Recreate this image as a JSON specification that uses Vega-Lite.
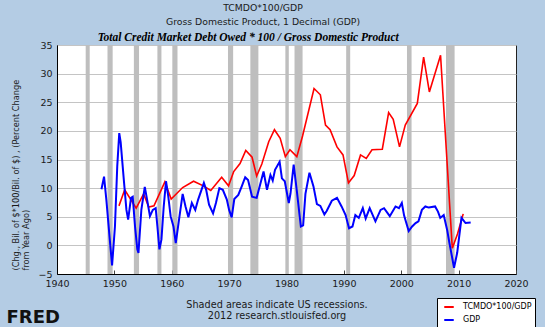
{
  "$schema": "https://vega.github.io/schema/vega-lite/v6.json",
  "width": 459,
  "height": 229,
  "autosize": {"type": "none"},
  "padding": {"left": 57, "top": 45, "right": 29, "bottom": 53},
  "background": "#B4CCE4",
  "config": {"view": {"stroke": "#222", "fill": "#FFFFFF"}},
  "title": {
    "text": ["TCMDO*100/GDP", "Gross Domestic Product, 1 Decimal (GDP)"],
    "font": "DejaVu Sans",
    "fontSize": 9.3,
    "fontWeight": "normal",
    "color": "#1a1a1a",
    "anchor": "middle",
    "dx": -23.5,
    "lineHeight": 13.5
  },
  "resolve": {"axis": {"x": "independent", "y": "independent"}},
  "layer": [
    {
      "data": {"values": [
        {"start": 1945.0, "end": 1945.7},
        {"start": 1948.8, "end": 1949.7},
        {"start": 1953.4, "end": 1954.3},
        {"start": 1957.5, "end": 1958.2},
        {"start": 1960.1, "end": 1961.0},
        {"start": 1969.8, "end": 1970.7},
        {"start": 1973.7, "end": 1975.1},
        {"start": 1979.8, "end": 1980.4},
        {"start": 1981.4, "end": 1982.8},
        {"start": 1990.4, "end": 1991.1},
        {"start": 2001.0, "end": 2001.8},
        {"start": 2007.8, "end": 2009.3}
      ]},
      "mark": {"type": "rect", "color": "#BEBEBE"},
      "encoding": {
        "x": {
          "field": "start", "type": "quantitative",
          "scale": {"domain": [1940, 2020], "nice": false, "zero": false},
          "axis": {
            "orient": "bottom",
            "values": [1940, 1950, 1960, 1970, 1980, 1990, 2000, 2010, 2020],
            "format": "d",
            "grid": false,
            "labelFlush": false,
            "labelOverlap": false,
            "tickSize": -4,
            "tickColor": "#444",
            "domainColor": "#000",
            "labelFont": "DejaVu Sans",
            "labelFontSize": 9.5,
            "labelColor": "#1a1a1a",
            "labelPadding": 8,
            "title": ["Shaded areas indicate US recessions.", "2012 research.stlouisfed.org"],
            "titleFont": "DejaVu Sans",
            "titleFontSize": 9.7,
            "titleFontWeight": "normal",
            "titleColor": "#1a1a1a",
            "titleX": 219.5,
            "titleY": 33,
            "titleAlign": "center",
            "titleBaseline": "alphabetic",
            "titleLineHeight": 11
          }
        },
        "x2": {"field": "end"}
      }
    },
    {
      "data": {"values": [
        {"series": "TCMDO*100/GDP", "year": 1950.8, "value": 6.9},
        {"series": "TCMDO*100/GDP", "year": 1951.8, "value": 9.7},
        {"series": "TCMDO*100/GDP", "year": 1953.8, "value": 6.5},
        {"series": "TCMDO*100/GDP", "year": 1955.1, "value": 9.0},
        {"series": "TCMDO*100/GDP", "year": 1956.0, "value": 6.7},
        {"series": "TCMDO*100/GDP", "year": 1956.9, "value": 6.9},
        {"series": "TCMDO*100/GDP", "year": 1958.8, "value": 11.1},
        {"series": "TCMDO*100/GDP", "year": 1959.9, "value": 8.1},
        {"series": "TCMDO*100/GDP", "year": 1961.9, "value": 10.1},
        {"series": "TCMDO*100/GDP", "year": 1963.8, "value": 11.2},
        {"series": "TCMDO*100/GDP", "year": 1965.5, "value": 10.4},
        {"series": "TCMDO*100/GDP", "year": 1966.8, "value": 9.6},
        {"series": "TCMDO*100/GDP", "year": 1968.7, "value": 11.9},
        {"series": "TCMDO*100/GDP", "year": 1969.9, "value": 10.4},
        {"series": "TCMDO*100/GDP", "year": 1970.8, "value": 12.9},
        {"series": "TCMDO*100/GDP", "year": 1971.9, "value": 14.3},
        {"series": "TCMDO*100/GDP", "year": 1972.9, "value": 16.6},
        {"series": "TCMDO*100/GDP", "year": 1974.0, "value": 15.4},
        {"series": "TCMDO*100/GDP", "year": 1974.8, "value": 12.1},
        {"series": "TCMDO*100/GDP", "year": 1975.7, "value": 14.2},
        {"series": "TCMDO*100/GDP", "year": 1976.9, "value": 18.1},
        {"series": "TCMDO*100/GDP", "year": 1977.9, "value": 20.2},
        {"series": "TCMDO*100/GDP", "year": 1978.9, "value": 18.7},
        {"series": "TCMDO*100/GDP", "year": 1979.8, "value": 15.5},
        {"series": "TCMDO*100/GDP", "year": 1980.6, "value": 16.7},
        {"series": "TCMDO*100/GDP", "year": 1981.8, "value": 15.5},
        {"series": "TCMDO*100/GDP", "year": 1982.8, "value": 19.1},
        {"series": "TCMDO*100/GDP", "year": 1984.8, "value": 27.4},
        {"series": "TCMDO*100/GDP", "year": 1985.9, "value": 26.3},
        {"series": "TCMDO*100/GDP", "year": 1986.8, "value": 21.0},
        {"series": "TCMDO*100/GDP", "year": 1987.6, "value": 20.2},
        {"series": "TCMDO*100/GDP", "year": 1988.8, "value": 17.2},
        {"series": "TCMDO*100/GDP", "year": 1989.85, "value": 15.8},
        {"series": "TCMDO*100/GDP", "year": 1990.8, "value": 10.9},
        {"series": "TCMDO*100/GDP", "year": 1991.8, "value": 12.2},
        {"series": "TCMDO*100/GDP", "year": 1992.9, "value": 15.8},
        {"series": "TCMDO*100/GDP", "year": 1993.9, "value": 15.2},
        {"series": "TCMDO*100/GDP", "year": 1994.9, "value": 16.7},
        {"series": "TCMDO*100/GDP", "year": 1996.7, "value": 16.8},
        {"series": "TCMDO*100/GDP", "year": 1997.8, "value": 23.2},
        {"series": "TCMDO*100/GDP", "year": 1998.6, "value": 22.0},
        {"series": "TCMDO*100/GDP", "year": 1999.7, "value": 17.2},
        {"series": "TCMDO*100/GDP", "year": 2000.7, "value": 21.0},
        {"series": "TCMDO*100/GDP", "year": 2002.8, "value": 24.8},
        {"series": "TCMDO*100/GDP", "year": 2003.9, "value": 32.9},
        {"series": "TCMDO*100/GDP", "year": 2004.9, "value": 26.8},
        {"series": "TCMDO*100/GDP", "year": 2006.85, "value": 33.2},
        {"series": "TCMDO*100/GDP", "year": 2008.9, "value": -0.5},
        {"series": "TCMDO*100/GDP", "year": 2009.8, "value": 2.0},
        {"series": "TCMDO*100/GDP", "year": 2010.8, "value": 5.5}
      ]},
      "mark": {"type": "line", "strokeWidth": 1.6},
      "encoding": {
        "x": {
          "field": "year", "type": "quantitative",
          "axis": {
            "orient": "top", "labels": false, "ticks": false, "domain": false, "grid": false,
            "title": "Total Credit Market Debt Owed * 100 /  Gross Domestic Product",
            "titleFont": "Liberation Serif",
            "titleFontStyle": "italic",
            "titleFontWeight": "bold",
            "titleFontSize": 11.5,
            "titleColor": "#000",
            "titleX": 190.7,
            "titleY": -5,
            "titleAlign": "center",
            "titleBaseline": "alphabetic"
          }
        },
        "y": {
          "field": "value", "type": "quantitative",
          "scale": {"domain": [-5, 35], "nice": false, "zero": false},
          "axis": {
            "orient": "left",
            "values": [-5, 0, 5, 10, 15, 20, 25, 30, 35],
            "grid": true,
            "gridColor": "#C4C4C4",
            "ticks": false,
            "domainColor": "#000",
            "labelFont": "DejaVu Sans",
            "labelFontSize": 9.5,
            "labelColor": "#1a1a1a",
            "labelPadding": 5,
            "title": ["(Chg., Bil. of $*100/Bil. of $) , (Percent Change", "from Year Ago)"],
            "titleFont": "DejaVu Sans",
            "titleFontSize": 8.2,
            "titleFontWeight": "normal",
            "titleColor": "#1a1a1a",
            "titleAngle": -90,
            "titleAlign": "left",
            "titleBaseline": "top",
            "titleX": -45,
            "titleY": 225,
            "titleLineHeight": 10
          }
        },
        "color": {
          "field": "series", "type": "nominal",
          "scale": {"domain": ["TCMDO*100/GDP", "GDP"], "range": ["#FF0000", "#0000FF"]},
          "legend": {
            "orient": "none", "legendX": 380, "legendY": 253, "title": null,
            "symbolType": "stroke", "symbolStrokeWidth": 2, "symbolSize": 90,
            "labelFont": "DejaVu Sans", "labelFontSize": 8, "labelColor": "#000",
            "strokeColor": "#000", "fillColor": "#FFFFFF",
            "padding": 3, "rowPadding": 3, "labelOffset": 8, "symbolOffset": 3
          }
        }
      }
    },
    {
      "data": {"values": [
        {"series": "GDP", "year": 1947.75, "value": 9.8},
        {"series": "GDP", "year": 1948.2, "value": 12.0},
        {"series": "GDP", "year": 1948.6, "value": 8.0},
        {"series": "GDP", "year": 1949.2, "value": 1.0},
        {"series": "GDP", "year": 1949.6, "value": -3.5},
        {"series": "GDP", "year": 1950.1, "value": 3.3},
        {"series": "GDP", "year": 1950.5, "value": 13.8},
        {"series": "GDP", "year": 1950.85, "value": 19.6},
        {"series": "GDP", "year": 1951.1, "value": 18.0},
        {"series": "GDP", "year": 1951.65, "value": 11.4},
        {"series": "GDP", "year": 1952.1, "value": 6.2},
        {"series": "GDP", "year": 1952.4, "value": 4.5},
        {"series": "GDP", "year": 1952.9, "value": 8.3},
        {"series": "GDP", "year": 1953.2, "value": 8.5},
        {"series": "GDP", "year": 1953.6, "value": 3.3},
        {"series": "GDP", "year": 1954.0, "value": -0.7},
        {"series": "GDP", "year": 1954.2, "value": -1.3},
        {"series": "GDP", "year": 1954.7, "value": 6.2},
        {"series": "GDP", "year": 1955.3, "value": 10.2},
        {"series": "GDP", "year": 1955.7, "value": 8.0},
        {"series": "GDP", "year": 1956.2, "value": 5.1},
        {"series": "GDP", "year": 1956.7, "value": 6.2},
        {"series": "GDP", "year": 1957.2, "value": 6.5},
        {"series": "GDP", "year": 1957.5, "value": 3.3},
        {"series": "GDP", "year": 1957.85, "value": -0.7},
        {"series": "GDP", "year": 1958.2, "value": 1.0},
        {"series": "GDP", "year": 1958.6, "value": 6.8},
        {"series": "GDP", "year": 1959.0, "value": 11.2},
        {"series": "GDP", "year": 1959.4, "value": 8.5},
        {"series": "GDP", "year": 1959.8, "value": 5.1},
        {"series": "GDP", "year": 1960.3, "value": 3.3},
        {"series": "GDP", "year": 1960.7, "value": 0.4},
        {"series": "GDP", "year": 1961.2, "value": 4.0},
        {"series": "GDP", "year": 1961.9, "value": 9.0},
        {"series": "GDP", "year": 1962.4, "value": 6.8},
        {"series": "GDP", "year": 1962.9, "value": 4.9},
        {"series": "GDP", "year": 1963.5, "value": 7.4},
        {"series": "GDP", "year": 1964.1, "value": 6.2},
        {"series": "GDP", "year": 1964.6, "value": 8.0},
        {"series": "GDP", "year": 1965.6, "value": 10.9},
        {"series": "GDP", "year": 1966.0, "value": 9.7},
        {"series": "GDP", "year": 1966.5, "value": 7.1},
        {"series": "GDP", "year": 1967.2, "value": 5.6},
        {"series": "GDP", "year": 1967.7, "value": 7.4},
        {"series": "GDP", "year": 1968.3, "value": 10.0},
        {"series": "GDP", "year": 1968.9, "value": 9.7},
        {"series": "GDP", "year": 1969.6, "value": 8.0},
        {"series": "GDP", "year": 1970.0, "value": 6.2},
        {"series": "GDP", "year": 1970.45, "value": 4.9},
        {"series": "GDP", "year": 1970.9, "value": 8.1},
        {"series": "GDP", "year": 1971.6, "value": 8.8},
        {"series": "GDP", "year": 1972.2, "value": 10.3},
        {"series": "GDP", "year": 1972.8, "value": 11.9},
        {"series": "GDP", "year": 1973.3, "value": 11.4},
        {"series": "GDP", "year": 1974.0, "value": 8.5},
        {"series": "GDP", "year": 1974.8, "value": 8.3},
        {"series": "GDP", "year": 1975.4, "value": 10.6},
        {"series": "GDP", "year": 1976.0, "value": 12.9},
        {"series": "GDP", "year": 1976.6, "value": 9.7},
        {"series": "GDP", "year": 1977.2, "value": 12.3},
        {"series": "GDP", "year": 1977.6, "value": 11.3},
        {"series": "GDP", "year": 1978.0, "value": 13.2},
        {"series": "GDP", "year": 1978.8, "value": 14.6},
        {"series": "GDP", "year": 1979.2, "value": 11.7},
        {"series": "GDP", "year": 1979.7, "value": 11.2},
        {"series": "GDP", "year": 1980.4, "value": 7.4},
        {"series": "GDP", "year": 1980.7, "value": 9.1},
        {"series": "GDP", "year": 1981.25, "value": 14.1},
        {"series": "GDP", "year": 1981.8, "value": 9.5},
        {"series": "GDP", "year": 1982.5, "value": 3.3},
        {"series": "GDP", "year": 1982.9, "value": 3.5},
        {"series": "GDP", "year": 1983.3, "value": 9.0},
        {"series": "GDP", "year": 1984.0, "value": 12.7},
        {"series": "GDP", "year": 1984.7, "value": 10.3},
        {"series": "GDP", "year": 1985.3, "value": 7.2},
        {"series": "GDP", "year": 1985.9, "value": 6.9},
        {"series": "GDP", "year": 1986.6, "value": 5.4},
        {"series": "GDP", "year": 1987.0, "value": 6.0},
        {"series": "GDP", "year": 1987.9, "value": 7.8},
        {"series": "GDP", "year": 1988.8, "value": 8.3},
        {"series": "GDP", "year": 1989.6, "value": 6.8},
        {"series": "GDP", "year": 1990.3, "value": 5.3},
        {"series": "GDP", "year": 1990.9, "value": 3.0},
        {"series": "GDP", "year": 1991.5, "value": 3.3},
        {"series": "GDP", "year": 1992.0, "value": 5.3},
        {"series": "GDP", "year": 1992.6, "value": 4.8},
        {"series": "GDP", "year": 1993.3, "value": 6.5},
        {"series": "GDP", "year": 1993.8, "value": 4.7},
        {"series": "GDP", "year": 1994.5, "value": 6.5},
        {"series": "GDP", "year": 1995.5, "value": 4.2},
        {"series": "GDP", "year": 1996.4, "value": 6.2},
        {"series": "GDP", "year": 1997.0, "value": 6.5},
        {"series": "GDP", "year": 1998.0, "value": 5.1},
        {"series": "GDP", "year": 1999.0, "value": 6.8},
        {"series": "GDP", "year": 1999.6, "value": 6.5},
        {"series": "GDP", "year": 2000.1, "value": 7.4},
        {"series": "GDP", "year": 2000.5, "value": 5.2},
        {"series": "GDP", "year": 2001.3, "value": 2.5},
        {"series": "GDP", "year": 2001.9, "value": 3.3},
        {"series": "GDP", "year": 2002.5, "value": 3.9},
        {"series": "GDP", "year": 2003.0, "value": 4.2},
        {"series": "GDP", "year": 2003.6, "value": 6.2},
        {"series": "GDP", "year": 2004.2, "value": 6.8},
        {"series": "GDP", "year": 2004.8, "value": 6.6},
        {"series": "GDP", "year": 2005.9, "value": 6.8},
        {"series": "GDP", "year": 2006.4, "value": 5.9},
        {"series": "GDP", "year": 2006.8, "value": 4.8},
        {"series": "GDP", "year": 2007.4, "value": 5.3},
        {"series": "GDP", "year": 2008.0, "value": 2.7},
        {"series": "GDP", "year": 2008.4, "value": 0.4},
        {"series": "GDP", "year": 2009.2, "value": -3.9},
        {"series": "GDP", "year": 2009.75, "value": -1.3},
        {"series": "GDP", "year": 2010.5, "value": 4.8},
        {"series": "GDP", "year": 2011.2, "value": 3.9},
        {"series": "GDP", "year": 2012.1, "value": 4.0}
      ]},
      "mark": {"type": "line", "strokeWidth": 2},
      "encoding": {
        "x": {"field": "year", "type": "quantitative", "axis": null},
        "y": {
          "field": "value", "type": "quantitative",
          "axis": {
            "orient": "left", "labels": false, "ticks": false, "domain": false, "grid": false,
            "title": "FRED",
            "titleAngle": 0,
            "titleFont": "DejaVu Sans",
            "titleFontWeight": "bold",
            "titleFontSize": 18,
            "titleColor": "#111",
            "titleX": -51,
            "titleY": 277,
            "titleAlign": "left",
            "titleBaseline": "alphabetic"
          }
        },
        "color": {"field": "series", "type": "nominal"}
      }
    }
  ]
}
